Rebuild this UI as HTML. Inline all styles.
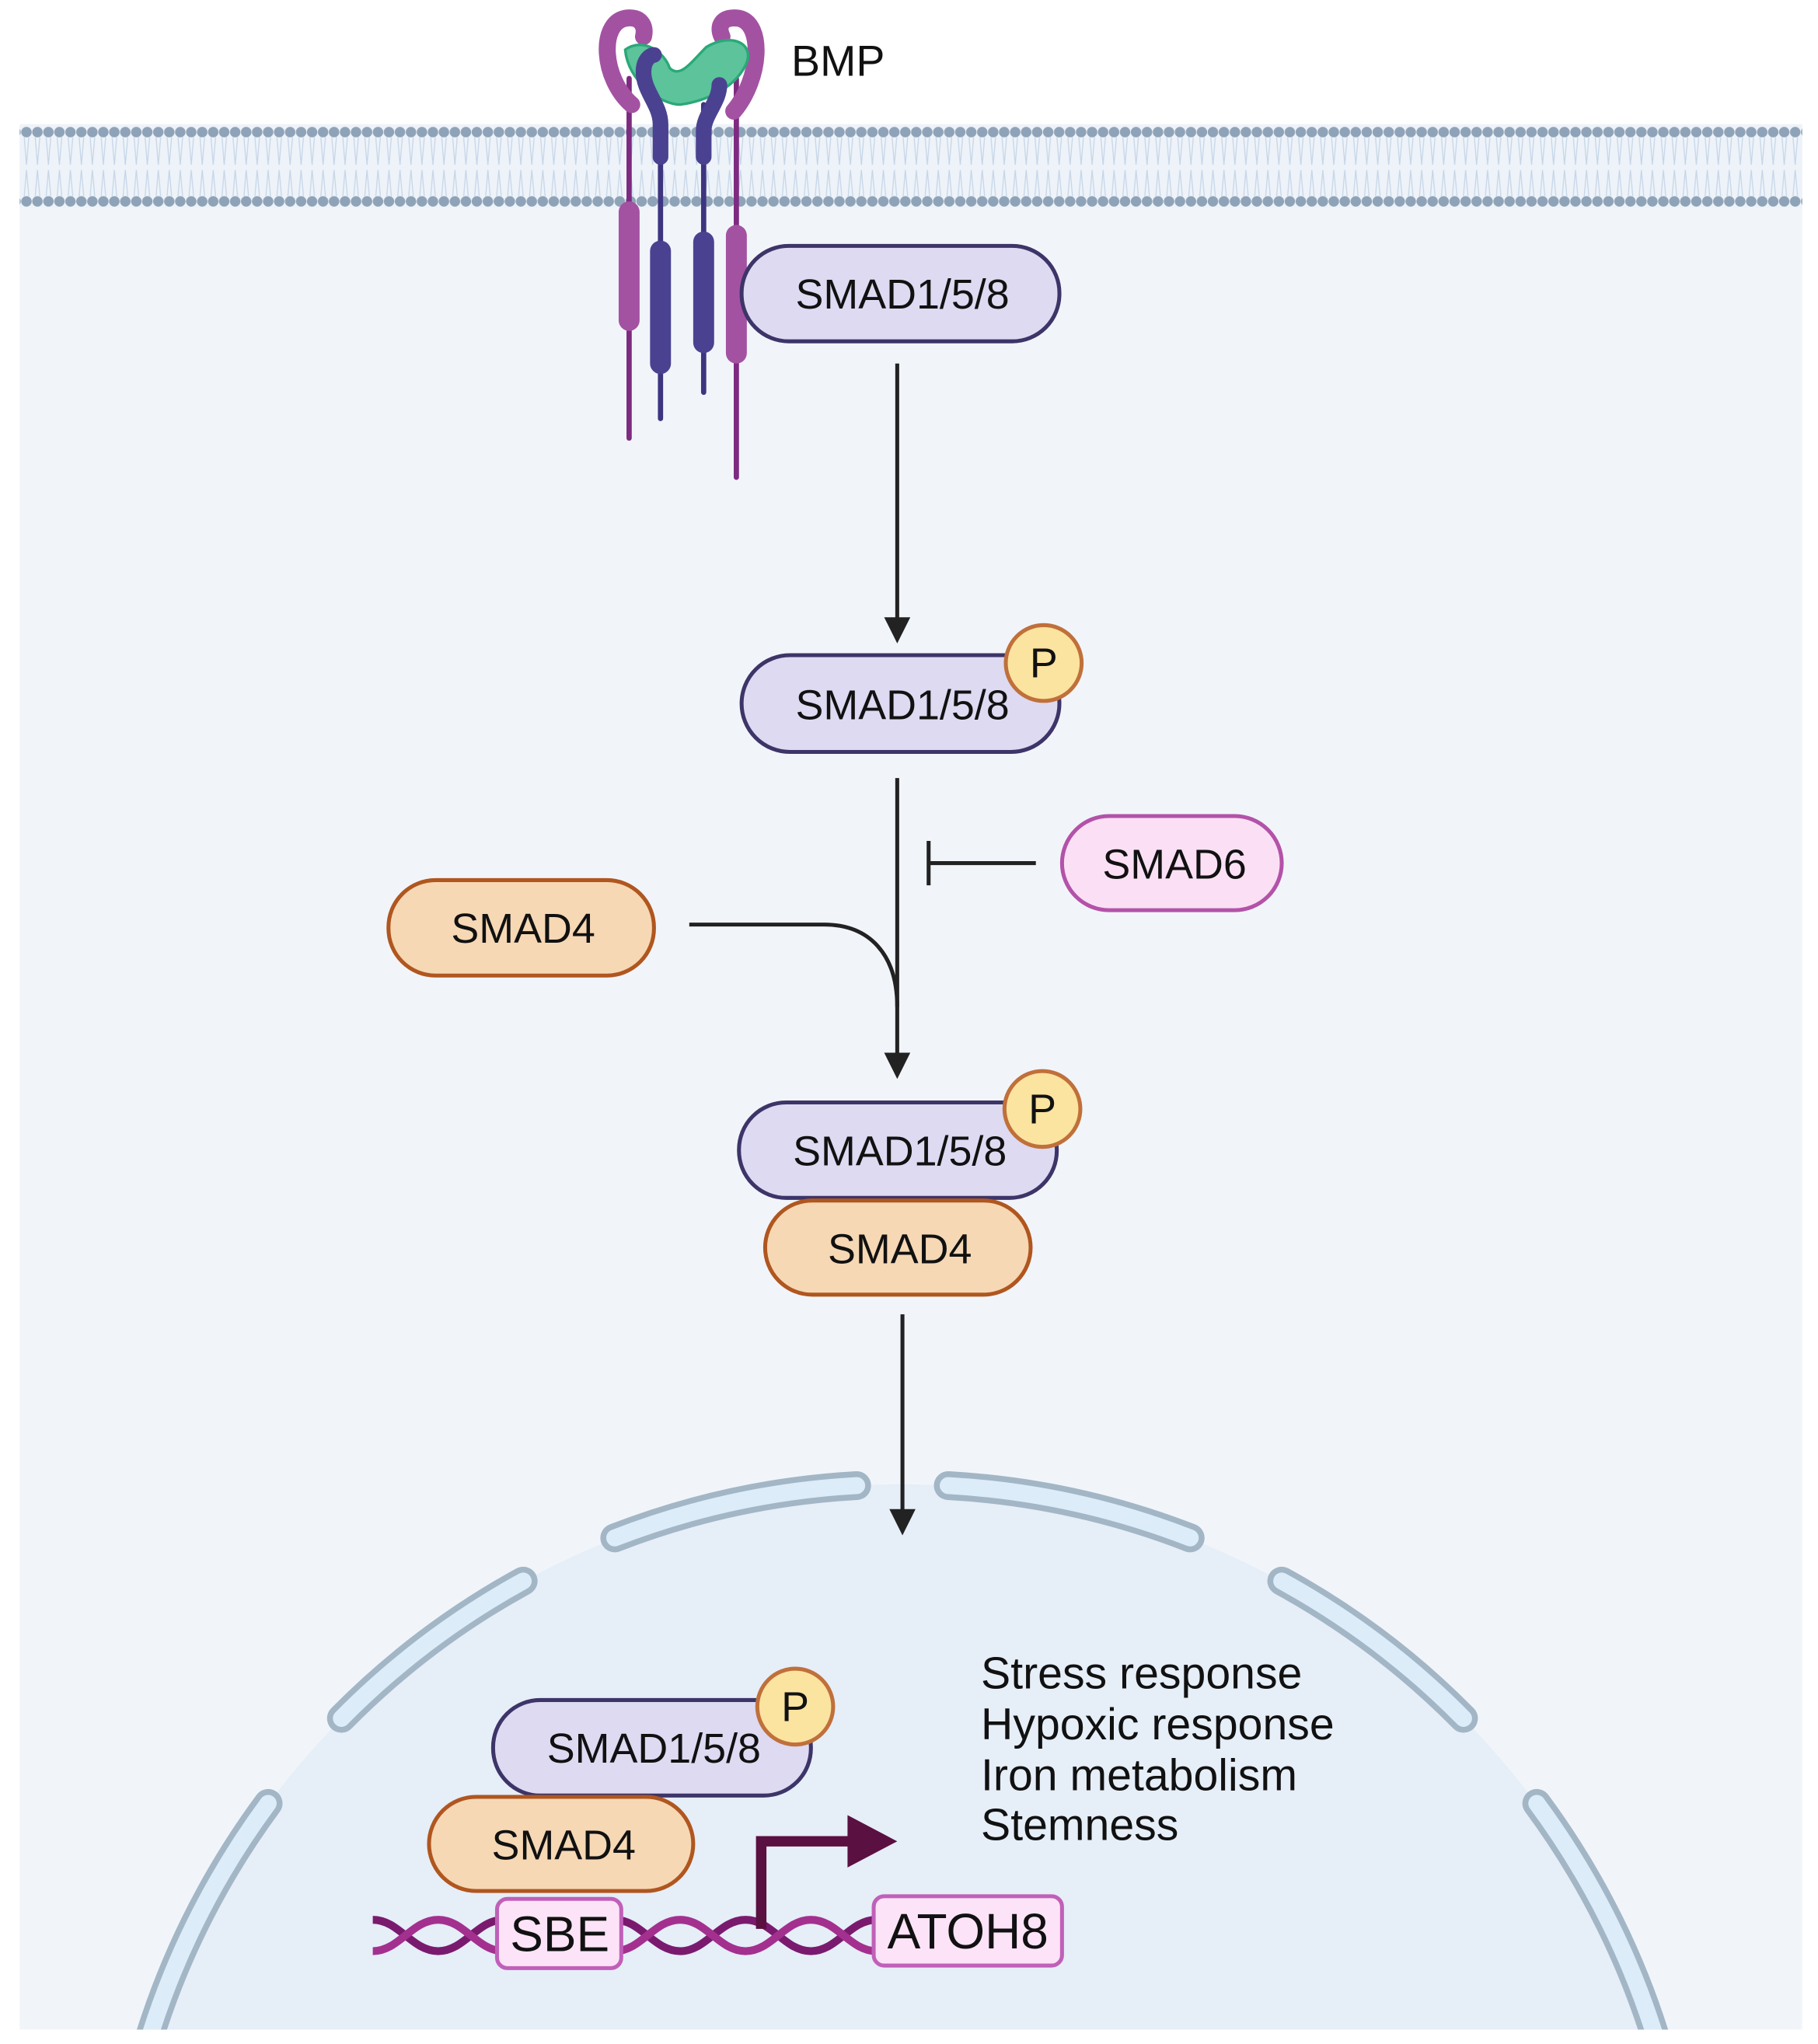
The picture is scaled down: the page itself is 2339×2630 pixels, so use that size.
<!DOCTYPE html>
<html><head><meta charset="utf-8"><style>
html,body{margin:0;padding:0;background:#fff;width:2339px;height:2630px;overflow:hidden;}
svg{display:block;}
text{font-family:"Liberation Sans",sans-serif;fill:#111;}
</style></head><body>
<svg width="2339" height="2630" viewBox="0 0 1390 1563" xmlns="http://www.w3.org/2000/svg">
<defs>
<pattern id="dots" x="16" y="0" width="8.4" height="1563" patternUnits="userSpaceOnUse">
<circle cx="4.2" cy="101" r="4" fill="#8fa3b8"/>
<circle cx="4.2" cy="154" r="4" fill="#8fa3b8"/>
<path d="M2.5 105 L4.2 126 L6 105 M2.5 150 L4.2 130 L6 150" stroke="#c6d6e8" stroke-width="0.8" fill="none"/>
</pattern>
<clipPath id="cell"><rect x="15" y="95" width="1363" height="1457"/></clipPath>
</defs>
<rect x="15" y="95" width="1363" height="1457" fill="#f1f5fa"/>
<rect x="15" y="95" width="1363" height="64" fill="#eef3f9"/>
<rect x="15" y="95" width="1363" height="64" fill="url(#dots)"/>

<!-- nucleus -->
<g clip-path="url(#cell)">
<circle cx="690" cy="1738" r="603" fill="#e6eef8"/>
<g fill="none" stroke-linecap="round">
<g stroke="#a3b6c6" stroke-width="22">
<path d="M655 1136 A603 603 0 0 0 470 1176"/>
<path d="M725 1136 A603 603 0 0 1 910 1176"/>
<path d="M400 1209 A603 603 0 0 0 261 1314"/>
<path d="M980 1209 A603 603 0 0 1 1119 1314"/>
<path d="M205 1379 A603 603 0 0 0 110 1572"/>
<path d="M1175 1379 A603 603 0 0 1 1270 1572"/>
</g>
<g stroke="#dcecf8" stroke-width="13">
<path d="M655 1136 A603 603 0 0 0 470 1176"/>
<path d="M725 1136 A603 603 0 0 1 910 1176"/>
<path d="M400 1209 A603 603 0 0 0 261 1314"/>
<path d="M980 1209 A603 603 0 0 1 1119 1314"/>
<path d="M205 1379 A603 603 0 0 0 110 1572"/>
<path d="M1175 1379 A603 603 0 0 1 1270 1572"/>
</g>
</g>
</g>

<!-- receptors -->
<g stroke-linecap="round" fill="none">
<line x1="481" y1="60" x2="481" y2="335" stroke="#7d2a80" stroke-width="4"/>
<line x1="563" y1="60" x2="563" y2="365" stroke="#7d2a80" stroke-width="4"/>
<line x1="505" y1="80" x2="505" y2="320" stroke="#3e3580" stroke-width="4"/>
<line x1="538" y1="80" x2="538" y2="300" stroke="#3e3580" stroke-width="4"/>
<line x1="481" y1="162" x2="481" y2="245" stroke="#a352a2" stroke-width="16"/>
<line x1="563" y1="180" x2="563" y2="270" stroke="#a352a2" stroke-width="16"/>
<line x1="505" y1="192" x2="505" y2="278" stroke="#4a4290" stroke-width="16"/>
<line x1="538" y1="185" x2="538" y2="262" stroke="#4a4290" stroke-width="16"/>
<path d="M483 80 C460 60 458 18 478 14 C490 12 494 20 492 28" stroke="#a352a2" stroke-width="13"/>
<path d="M561 85 C582 60 584 18 565 14 C552 12 548 20 552 28" stroke="#a352a2" stroke-width="13"/>
</g>
<path d="M478 38 C492 28 508 40 512 52 C520 60 528 48 540 36 C560 24 578 34 570 50 C560 70 535 78 520 80 C505 80 480 62 478 38Z" fill="#5cc39a" stroke="#2aa878" stroke-width="2"/>
<g stroke-linecap="round" fill="none">
<path d="M505 120 L505 95 C505 80 492 70 492 55 C492 45 498 42 500 42" stroke="#4a4290" stroke-width="12"/>
<path d="M538 120 L538 100 C538 88 550 78 550 65" stroke="#4a4290" stroke-width="12"/>
</g>
<text x="605" y="58" font-size="33">BMP</text>

<!-- pills -->
<g stroke-width="3">
<rect x="567" y="188" width="243" height="73" rx="36" fill="#dddaf2" stroke="#3d3468"/>
<rect x="567" y="501" width="243" height="74" rx="37" fill="#dddaf2" stroke="#3d3468"/>
<rect x="812" y="624" width="168" height="72" rx="36" fill="#fbe0f5" stroke="#b352a8"/>
<rect x="297" y="673" width="203" height="73" rx="36" fill="#f6d8b5" stroke="#b0561f"/>
<rect x="565" y="843" width="243" height="73" rx="36" fill="#dddaf2" stroke="#3d3468"/>
<rect x="585" y="918" width="203" height="72" rx="36" fill="#f6d8b5" stroke="#b0561f"/>
<rect x="377" y="1300" width="243" height="73" rx="36" fill="#dddaf2" stroke="#3d3468"/>
<rect x="328" y="1374" width="202" height="72" rx="36" fill="#f6d8b5" stroke="#b0561f"/>
<circle cx="798" cy="507" r="29" fill="#fbe3a0" stroke="#c0703a"/>
<circle cx="797" cy="848" r="29" fill="#fbe3a0" stroke="#c0703a"/>
<circle cx="608" cy="1305" r="29" fill="#fbe3a0" stroke="#c0703a"/>
</g>
<g font-size="32" text-anchor="middle">
<text x="690" y="236">SMAD1/5/8</text>
<text x="690" y="550">SMAD1/5/8</text>
<text x="898" y="672">SMAD6</text>
<text x="400" y="721">SMAD4</text>
<text x="688" y="891">SMAD1/5/8</text>
<text x="688" y="966">SMAD4</text>
<text x="500" y="1348">SMAD1/5/8</text>
<text x="431" y="1422">SMAD4</text>
<text x="798" y="518">P</text>
<text x="797" y="859">P</text>
<text x="608" y="1316">P</text>
</g>

<!-- connectors -->
<g stroke="#222" stroke-width="3" fill="none">
<line x1="686" y1="278" x2="686" y2="475"/>
<line x1="686" y1="595" x2="686" y2="808"/>
<path d="M527 707 L630 707 C665 707 686 730 686 770"/>
<line x1="710" y1="660" x2="792" y2="660"/>
<line x1="710" y1="643" x2="710" y2="677"/>
<line x1="690" y1="1005" x2="690" y2="1157"/>
</g>
<g fill="#222">
<path d="M676 472 L696 472 L686 492Z"/>
<path d="M676 805 L696 805 L686 825Z"/>
<path d="M680 1154 L700 1154 L690 1174Z"/>
</g>

<!-- DNA -->
<g fill="none" stroke-width="6">
<path d="M285 1468 C305 1468 315 1492 335 1492 C355 1492 365 1468 385 1468 M470 1468 C490 1468 500 1492 520 1492 C540 1492 550 1468 570 1468 C590 1468 600 1492 620 1492 C640 1492 650 1468 670 1468" stroke="#7a1a6e"/>
<path d="M285 1492 C305 1492 315 1468 335 1468 C355 1468 365 1492 385 1492 M470 1492 C490 1492 500 1468 520 1468 C540 1468 550 1492 570 1492 C590 1492 600 1468 620 1468 C640 1468 650 1492 670 1492" stroke="#a3308f"/>
</g>
<path d="M582 1475 L582 1408 L650 1408" stroke="#5a1040" stroke-width="8" fill="none"/>
<path d="M648 1388 L686 1408 L648 1428Z" fill="#5a1040"/>
<rect x="380" y="1452" width="95" height="53" rx="8" fill="#fde3f7" stroke="#c060b8" stroke-width="3"/>
<rect x="668" y="1450" width="144" height="53" rx="8" fill="#fde3f7" stroke="#c060b8" stroke-width="3"/>
<text x="428" y="1492" font-size="38" text-anchor="middle">SBE</text>
<text x="740" y="1490" font-size="38" text-anchor="middle">ATOH8</text>

<g font-size="34">
<text x="750" y="1291">Stress response</text>
<text x="750" y="1330">Hypoxic response</text>
<text x="750" y="1369">Iron metabolism</text>
<text x="750" y="1407">Stemness</text>
</g>
</svg>
</body></html>
